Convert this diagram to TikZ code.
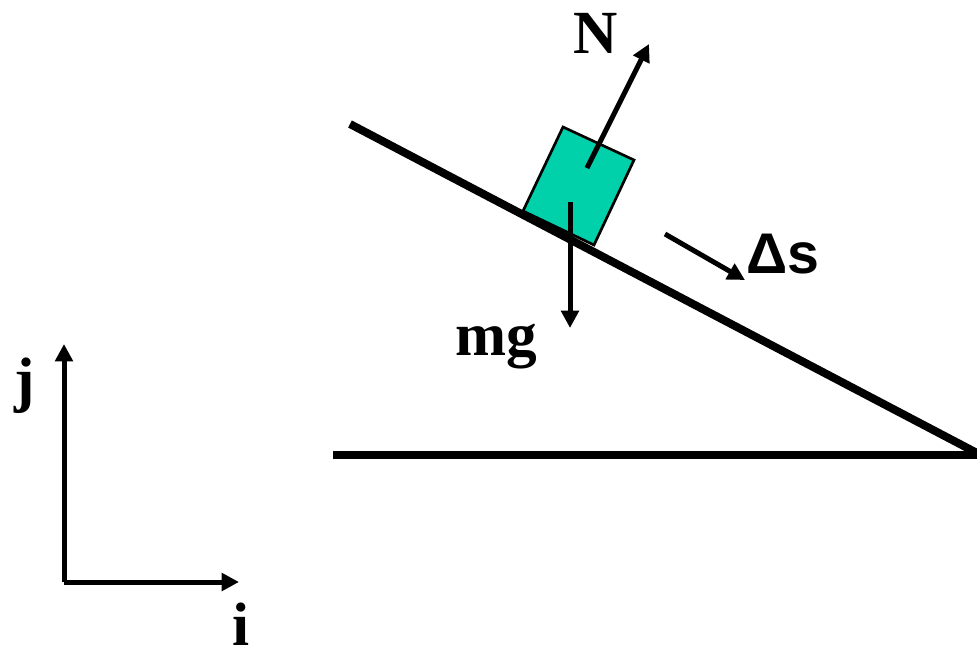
\documentclass[tikz,border=0pt]{standalone}
\usepackage{fontspec}
\setmainfont{Liberation Serif}
\newfontfamily\sansb{Liberation Sans}
\usetikzlibrary{arrows.meta}
\definecolor{blockteal}{RGB}{0,209,170}
\begin{document}
\begin{tikzpicture}[x=0.75pt,y=-0.75pt,
  vec/.style={line width=3.75pt,-{Triangle[length=13pt,width=13pt]}},
  surface/.style={line width=6pt},
  lbl/.style={anchor=base,inner sep=0pt,font=\fontsize{46}{50}\selectfont\bfseries},
  slbl/.style={anchor=base,inner sep=0pt,font=\fontsize{43}{48}\selectfont\sansb\bfseries}]
\useasboundingbox (0,0) rectangle (977,658);
% block
\filldraw[fill=blockteal,draw=black,line width=2pt] (523,211) -- (563,127) -- (634,160) -- (594,245) -- cycle;
% incline and ground
\coordinate (inclA) at (350,124);
\coordinate (inclB) at (977,453);
\coordinate (grA) at (333,455);
\coordinate (grB) at (977,455);
\draw[surface] (inclA) -- (inclB);
\draw[surface] (grA) -- (grB);
% forces
\coordinate (nS) at (587,168);
\coordinate (nE) at (649,44);
\coordinate (gS) at (570,202);
\coordinate (gE) at (570,328);
\coordinate (sS) at (665,234);
\coordinate (sE) at (745,280);
\draw[vec] (nS) -- (nE);
\draw[vec] (gS) -- (gE);
\draw[vec] (sS) -- (sE);
\node[lbl] (N) at (596,53) {N};
\node[lbl] (mg) at (496,355) {mg};
\node[slbl] (ds) at (783,273) {Δs};
% axes
\coordinate (O) at (64,582);
\coordinate (jE) at (64,344);
\coordinate (iE) at (239,582);
\draw[vec] (O) -- (jE);
\draw[vec] (O) -- (iE);
\node[lbl] (j) at (25,400) {j};
\node[lbl] (i) at (241,645) {i};
\end{tikzpicture}
\end{document}
